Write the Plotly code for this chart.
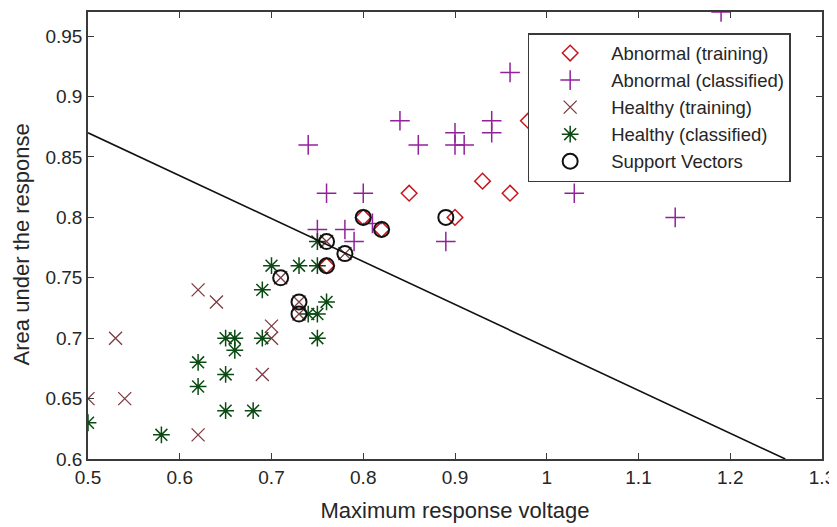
import plotly.graph_objects as go

# Abnormal (training)
abn_train_x = [0.85, 0.93, 0.96, 0.98, 0.90, 0.80, 0.82, 0.76]
abn_train_y = [0.82, 0.83, 0.82, 0.88, 0.80, 0.80, 0.79, 0.76]

# Abnormal (classified)
abn_cls_x = [0.74, 0.75, 0.76, 0.78, 0.79, 0.80, 0.81, 0.84, 0.86, 0.89, 0.90, 0.90,
             0.91, 0.94, 0.94, 0.96, 1.03, 1.14, 1.19]
abn_cls_y = [0.86, 0.79, 0.82, 0.79, 0.78, 0.82, 0.795, 0.88, 0.86, 0.78, 0.87, 0.86,
             0.86, 0.88, 0.87, 0.92, 0.82, 0.80, 0.97]

# Healthy (training)
hl_train_x = [0.62, 0.64, 0.53, 0.50, 0.54, 0.62, 0.69, 0.70, 0.70,
              0.76, 0.78, 0.71, 0.73, 0.73]
hl_train_y = [0.74, 0.73, 0.70, 0.65, 0.65, 0.62, 0.67, 0.71, 0.70,
              0.78, 0.77, 0.75, 0.73, 0.72]

# Healthy (classified)
hl_cls_x = [0.69, 0.65, 0.66, 0.66, 0.69, 0.62, 0.62, 0.65, 0.65, 0.68, 0.58, 0.50,
            0.75, 0.75, 0.70, 0.73, 0.75, 0.74, 0.75, 0.76]
hl_cls_y = [0.74, 0.70, 0.70, 0.69, 0.70, 0.68, 0.66, 0.67, 0.64, 0.64, 0.62, 0.63,
            0.70, 0.78, 0.76, 0.76, 0.76, 0.72, 0.72, 0.73]

# Support vectors
sv_x = [0.80, 0.82, 0.76, 0.78, 0.76, 0.71, 0.73, 0.73, 0.89]
sv_y = [0.80, 0.79, 0.78, 0.77, 0.76, 0.75, 0.73, 0.72, 0.80]

# Decision boundary
line_x = [0.5, 1.26]
line_y = [0.87, 0.60]

FONT = 'Liberation Sans, Arial'
TXT = '#262626'
AXC = '#3a3a3a'

fig = go.Figure()

fig.add_trace(go.Scatter(
    x=abn_train_x, y=abn_train_y, mode='markers', name='Abnormal (training)',
    legendgroup='a',
    marker=dict(symbol='diamond-open', size=12, color='#C8161E', line=dict(width=1.5))
))
fig.add_trace(go.Scatter(
    x=abn_cls_x, y=abn_cls_y, mode='markers', name='Abnormal (classified)',
    legendgroup='b',
    marker=dict(symbol='cross-thin-open', size=14, color='#92229A', line=dict(width=1.5))
))
fig.add_trace(go.Scatter(
    x=hl_train_x, y=hl_train_y, mode='markers', name='Healthy (training)',
    legendgroup='c',
    marker=dict(symbol='x-thin-open', size=13, color='#7E3A40', line=dict(width=1.3))
))
fig.add_trace(go.Scatter(
    x=hl_cls_x, y=hl_cls_y, mode='markers', name='Healthy (classified)',
    legendgroup='d',
    marker=dict(symbol='asterisk-open', size=14, color='#0B4A12', line=dict(width=1.5))
))
fig.add_trace(go.Scatter(
    x=sv_x, y=sv_y, mode='markers', name='Support Vectors',
    legendgroup='e',
    marker=dict(symbol='circle-open', size=15, color='#111111', line=dict(width=2))
))
fig.add_trace(go.Scatter(
    x=line_x, y=line_y, mode='lines', showlegend=False,
    line=dict(color='#111111', width=1.6)
))

axis_common = dict(
    showgrid=False, zeroline=False, showline=True, linecolor=AXC, linewidth=1.5,
    mirror='ticks', ticks='inside', ticklen=6, tickcolor=AXC, automargin=False,
    tickfont=dict(family=FONT, size=19, color=TXT),
)

# the page body adds an 8px margin, so the figure is sized to fit inside the window
fig.update_layout(
    width=829, height=519,
    plot_bgcolor='white', paper_bgcolor='white',
    margin=dict(l=80, r=15, t=4, b=68),
    xaxis=dict(range=[0.5, 1.3], dtick=0.1, tickformat='~g',
               title=dict(text='Maximum response voltage', standoff=16,
                          font=dict(family=FONT, size=22, color=TXT)),
               **axis_common),
    yaxis=dict(range=[0.6, 0.97], dtick=0.05, tickformat='~g', **axis_common),
    legend=dict(x=0.599, y=0.953, xanchor='left', yanchor='top',
                bordercolor=AXC, borderwidth=1.5, bgcolor='white',
                font=dict(family=FONT, size=18.5, color=TXT),
                tracegroupgap=0, itemwidth=72),
)

# y title as an annotation so it can sit closer to the page edge
fig.add_annotation(
    text='Area under the response', textangle=-90, showarrow=False,
    xref='paper', yref='paper', x=-0.09, y=0.48, xanchor='center', yanchor='middle',
    font=dict(family=FONT, size=22, color=TXT)
)

fig.write_html("out.html")
